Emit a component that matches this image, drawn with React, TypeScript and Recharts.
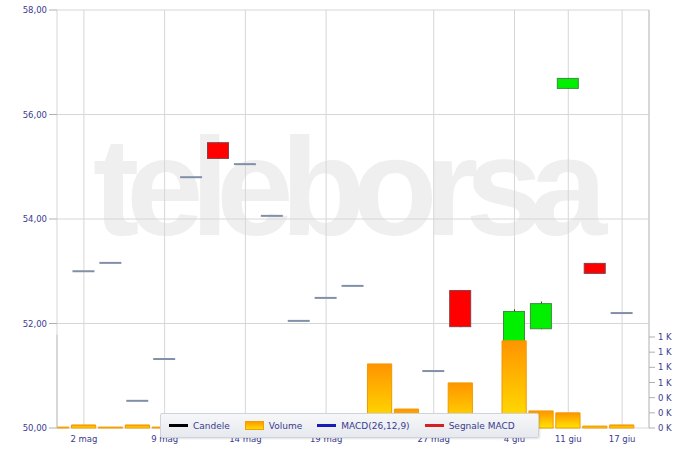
import {
  ComposedChart,
  Bar,
  XAxis,
  YAxis,
  CartesianGrid,
  Legend,
  ReferenceLine,
} from 'recharts';

// slot -1 is the half-visible session on the left edge
const slots = [-1, 0, 1, 2, 3, 4, 5, 6, 7, 8, 9, 10, 11, 12, 13, 14, 15, 16, 17, 18, 19, 20];
const opens = [null, 53.0, 53.16, 50.52, 51.32, 54.8, 55.47, 55.05, 54.06, 52.05, 52.49, 52.72, null, null, 51.09, 52.64, null, 51.65, 51.89, 56.49, 53.16, 52.2];
const closes = [null, 53.0, 53.16, 50.52, 51.32, 54.8, 55.15, 55.05, 54.06, 52.05, 52.49, 52.72, null, null, 51.09, 51.93, null, 52.24, 52.39, 56.7, 52.95, 52.2];
const highs = [null, 53.0, 53.16, 50.52, 51.32, 54.8, 55.47, 55.05, 54.06, 52.05, 52.49, 52.72, null, null, 51.09, 52.64, null, 52.27, 52.42, 56.7, 53.16, 52.2];
const lows = [null, 53.0, 53.16, 50.52, 51.32, 54.8, 55.15, 55.05, 54.06, 52.05, 52.49, 52.72, null, null, 51.09, 51.93, null, 51.65, 51.89, 56.49, 52.95, 52.2];
const volumes = [12, 40, 12, 40, 12, 30, 60, 40, 50, 30, 40, 60, 845, 250, 80, 595, 100, 1150, 225, 200, 25, 40];

const tickSlots = [0, 3, 6, 9, 13, 16, 18, 20];
const tickLabels = ['2 mag', '9 mag', '14 mag', '19 mag', '27 mag', '4 giu', '11 giu', '17 giu'];
const priceTicks = [50, 52, 54, 56, 58];
const volumeTicks = [0, 200, 400, 600, 800, 1000, 1200];

const data = slots.map((slot, i) => ({
  slot,
  open: opens[i],
  close: closes[i],
  high: highs[i],
  low: lows[i],
  volume: volumes[i],
}));

const FONT = '"DejaVu Sans", Verdana, sans-serif';
const LABEL = '#3b3b8f';

const CandleBody = (props: any) => {
  const { x, y, width, height, payload } = props;
  if (payload.open == null) return <g />;
  if (payload.open === payload.close) {
    return <line x1={x} x2={x + width} y1={y} y2={y} stroke="#8190a8" strokeWidth={2} />;
  }
  const up = payload.close > payload.open;
  return (
    <rect
      x={x + 0.5}
      y={y + 0.5}
      width={width - 1}
      height={Math.max(height - 1, 1)}
      fill={up ? '#00f000' : '#ff0000'}
      stroke={up ? '#3c8c3c' : '#8c3c46'}
    />
  );
};

const Wick = (props: any) => {
  const { x, y, width, height, payload } = props;
  if (payload.high == null || height < 0.5) return <g />;
  return <rect x={x} y={y} width={width} height={height} fill="#222" />;
};

const legendItems = [
  { label: 'Candele', color: '#000000', kind: 'line' },
  { label: 'Volume', color: '#ffa500', kind: 'rect' },
  { label: 'MACD(26,12,9)', color: '#1a1ab8', kind: 'line' },
  { label: 'Segnale MACD', color: '#d42020', kind: 'line' },
];

const LegendBox = () => (
  <div
    style={{
      display: 'flex',
      alignItems: 'center',
      height: 25,
      boxSizing: 'border-box',
      paddingLeft: 8,
      background: 'linear-gradient(#f6f7f9, #e6e9ee)',
      border: '1px solid #cfd4dc',
      borderRadius: 2,
      boxShadow: '1px 1px 2px rgba(0,0,0,0.12)',
      fontFamily: FONT,
      fontSize: 9,
      color: LABEL,
    }}
  >
    {legendItems.map((item) => (
      <div key={item.label} style={{ display: 'flex', alignItems: 'center', marginRight: 15 }}>
        {item.kind === 'line' ? (
          <span style={{ width: 19, height: 3, background: item.color, marginRight: 5 }} />
        ) : (
          <span
            style={{
              width: 19,
              height: 9,
              background: 'linear-gradient(#ff9900, #ffdd00)',
              border: '1px solid #f0a000',
              boxSizing: 'border-box',
              marginRight: 5,
            }}
          />
        )}
        <span>{item.label}</span>
      </div>
    ))}
  </div>
);

export default function App() {
  return (
    <div style={{ position: 'absolute', left: 0, top: 0, width: 700, height: 451, background: '#fff' }}>
      <svg width={700} height={451} style={{ position: 'absolute', left: 0, top: 0 }}>
        <text
          x={93}
          y={235}
          fontFamily='"Liberation Sans", Arial, sans-serif'
          fontWeight="bold"
          fontSize={139}
          letterSpacing={-13}
          fill="#efefef"
        >
          teleborsa
        </text>
      </svg>
      <ComposedChart
        width={700}
        height={451}
        data={data}
        margin={{ top: 10, right: 0, bottom: 0, left: 0 }}
        style={{ position: 'absolute', left: 0, top: 0 }}
      >
        <defs>
          <linearGradient id="volFill" x1="0" y1="0" x2="0" y2="1">
            <stop offset="0%" stopColor="#ff9400" />
            <stop offset="100%" stopColor="#ffe400" />
          </linearGradient>
        </defs>
        <CartesianGrid xAxisId="x" yAxisId="price" stroke="#d6d6d6" />
        <XAxis
          xAxisId="x"
          dataKey="slot"
          type="number"
          domain={[-1, 21]}
          ticks={tickSlots}
          tickFormatter={(v) => tickLabels[tickSlots.indexOf(v)] ?? ''}
          allowDataOverflow
          height={23}
          axisLine={false}
          tickLine={false}
          tickSize={4}
          tickMargin={4}
          tick={{ fill: LABEL, fontSize: 8.5, fontFamily: FONT }}
        />
        <XAxis xAxisId="xw" dataKey="slot" type="number" domain={[-1, 21]} allowDataOverflow hide />
        <XAxis xAxisId="xv" dataKey="slot" type="number" domain={[-1, 21]} allowDataOverflow hide />
        <YAxis
          yAxisId="price"
          domain={[50, 58]}
          ticks={priceTicks}
          width={57}
          axisLine={false}
          tickLine={{ stroke: '#b0b0b0' }}
          tickSize={8}
          tickMargin={2}
          tickFormatter={(v) => v.toFixed(2).replace('.', ',')}
          tick={{ fill: LABEL, fontSize: 8.5, fontFamily: FONT }}
        />
        <YAxis
          yAxisId="vol"
          orientation="right"
          domain={[0, 5512]}
          ticks={volumeTicks}
          width={51}
          axisLine={{ stroke: '#c4c4c4' }}
          tickLine={{ stroke: '#b0b0b0' }}
          tickSize={6}
          tickMargin={3}
          tickFormatter={(v) => `${Math.round(v / 1000)} K`}
          tick={{ fill: LABEL, fontSize: 8.5, fontFamily: FONT, textAnchor: 'start' }}
        />
        <ReferenceLine
          xAxisId="x"
          yAxisId="vol"
          segment={[{ x: -1, y: 0 }, { x: -1, y: 1230 }]}
          stroke="#c4c4c4"
        />
        <Bar
          xAxisId="xw"
          yAxisId="price"
          dataKey={(d: any) => (d.high == null ? null : [d.low, d.high])}
          barSize={1}
          shape={Wick}
          isAnimationActive={false}
        />
        <Bar
          xAxisId="x"
          yAxisId="price"
          dataKey={(d: any) => (d.open == null ? null : [Math.min(d.open, d.close), Math.max(d.open, d.close)])}
          barSize={22}
          shape={CandleBody}
          isAnimationActive={false}
        />
        <Bar
          xAxisId="xv"
          yAxisId="vol"
          dataKey="volume"
          barSize={27}
          fill="url(#volFill)"
          stroke="#f09a00"
          strokeWidth={1}
          isAnimationActive={false}
        />
        <Legend
          layout="horizontal"
          verticalAlign="middle"
          align="center"
          wrapperStyle={{ position: 'absolute', left: 160, top: 413, width: 379, height: 25 }}
          content={() => <LegendBox />}
        />
      </ComposedChart>
    </div>
  );
}
